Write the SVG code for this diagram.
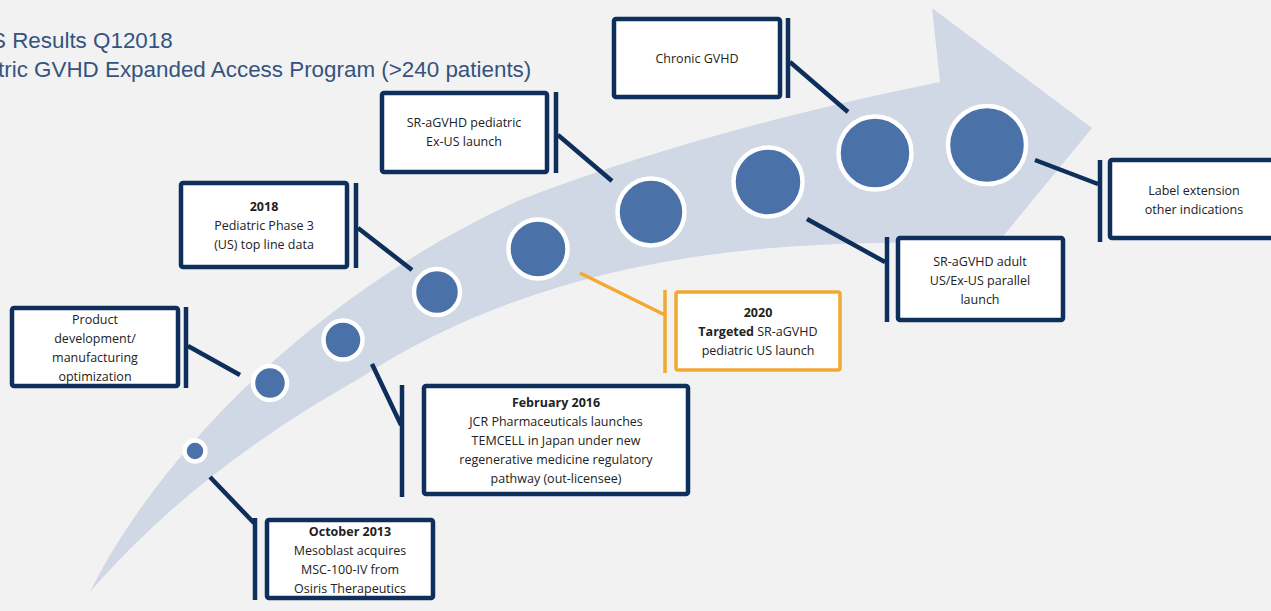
<svg xmlns="http://www.w3.org/2000/svg" width="1271" height="611" viewBox="0 0 1271 611">
<style>
.box{fill:#ffffff;stroke:#0e2e5c;stroke-width:4.5}
.obox{fill:#ffffff;stroke:#f2a930;stroke-width:3.5}
.ln{stroke:#0e2e5c;stroke-width:4.5;fill:none}
.oln{stroke:#f2a930;stroke-width:3.5;fill:none}
.dot{fill:#4b71a9;stroke:#ffffff;stroke-width:4.5}
.t{font-family:"Open Sans","Liberation Sans",sans-serif;font-size:12.5px;fill:#222222;text-anchor:middle}
.b{font-weight:bold}
.title{font-family:"Liberation Sans",Arial,sans-serif;font-size:22.4px;fill:#34547f}
</style>
<rect x="0" y="0" width="1271" height="611" fill="#f2f2f2"/>
<path id="arrow" d="M90 592 C150 470 300 300 520 200 C650 150 800 110 940 82 L932 8 L1092 128 L1000 240 L880 243 C700 245 520 275 360 378 C260 435 170 500 90 592 Z" fill="#d0d7e5"/>
<text class="title" x="-9" y="48">S Results Q12018</text>
<text class="title" x="-2" y="77">tric GVHD Expanded Access Program (&gt;240 patients)</text>
<g id="connectors">
<path class="ln" d="M188 346 L240 375 M186 307 V388"/>
<path class="ln" d="M358 228 L412 270 M356 183 V268"/>
<path class="ln" d="M558 135 L612 181 M556 92 V173"/>
<path class="ln" d="M790 62 L848 112 M788 18 V98"/>
<path class="ln" d="M1035 160 L1098 184 M1100 160 V242"/>
<path class="ln" d="M807 219 L885 262 M887 237 V322"/>
<path class="oln" d="M580 273 L665 315 M665 290 V373"/>
<path class="ln" d="M372 364 L401 425 M402 385 V497"/>
<path class="ln" d="M210 477 L254 523 M255 518 V600"/>
</g>
<g id="dots">
<circle class="dot" cx="195" cy="451" r="10.5"/>
<circle class="dot" cx="270" cy="383" r="17"/>
<circle class="dot" cx="343" cy="340" r="19.5"/>
<circle class="dot" cx="437" cy="292" r="23"/>
<circle class="dot" cx="538" cy="249" r="29.5"/>
<circle class="dot" cx="651" cy="212" r="33.5"/>
<circle class="dot" cx="768" cy="182" r="34.5"/>
<circle class="dot" cx="875" cy="153" r="36.5"/>
<circle class="dot" cx="987" cy="145" r="39"/>
</g>
<g id="n-product">
<rect class="box" x="12" y="308" width="166" height="78" rx="2"/>
<text class="t" x="95" y="324">Product</text>
<text class="t" x="95" y="343">development/</text>
<text class="t" x="95" y="362">manufacturing</text>
<text class="t" x="95" y="381">optimization</text>
</g>
<g id="n-2018">
<rect class="box" x="181" y="183" width="166" height="84" rx="2"/>
<text class="t b" x="264" y="211">2018</text>
<text class="t" x="264" y="230">Pediatric Phase 3</text>
<text class="t" x="264" y="249">(US) top line data</text>
</g>
<g id="n-exus">
<rect class="box" x="382" y="93" width="165" height="79" rx="2"/>
<text class="t" x="464" y="127">SR-aGVHD pediatric</text>
<text class="t" x="464" y="146">Ex-US launch</text>
</g>
<g id="n-chronic">
<rect class="box" x="614" y="19" width="166" height="78" rx="2"/>
<text class="t" x="697" y="63">Chronic GVHD</text>
</g>
<g id="n-label">
<rect class="box" x="1110" y="160" width="166" height="78" rx="2"/>
<text class="t" x="1194" y="195">Label extension</text>
<text class="t" x="1194" y="214">other indications</text>
</g>
<g id="n-adult">
<rect class="box" x="898" y="238" width="165" height="82" rx="2"/>
<text class="t" x="980" y="266">SR-aGVHD adult</text>
<text class="t" x="980" y="285">US/Ex-US parallel</text>
<text class="t" x="980" y="304">launch</text>
</g>
<g id="n-2020">
<rect class="obox" x="676" y="292" width="164" height="78" rx="2"/>
<text class="t b" x="758" y="317">2020</text>
<text class="t" x="758" y="336"><tspan class="b">Targeted</tspan> SR-aGVHD</text>
<text class="t" x="758" y="355">pediatric US launch</text>
</g>
<g id="n-2016">
<rect class="box" x="424" y="386" width="264" height="108" rx="2"/>
<text class="t b" x="556" y="407">February 2016</text>
<text class="t" x="556" y="426">JCR Pharmaceuticals launches</text>
<text class="t" x="556" y="445">TEMCELL  in Japan under new</text>
<text class="t" x="556" y="464">regenerative medicine regulatory</text>
<text class="t" x="556" y="483">pathway  (out-licensee)</text>
</g>
<g id="n-2013">
<rect class="box" x="267" y="520" width="166" height="78" rx="2"/>
<text class="t b" x="350" y="536">October 2013</text>
<text class="t" x="350" y="555">Mesoblast acquires</text>
<text class="t" x="350" y="574">MSC-100-IV from</text>
<text class="t" x="350" y="593">Osiris Therapeutics</text>
</g>
</svg>
